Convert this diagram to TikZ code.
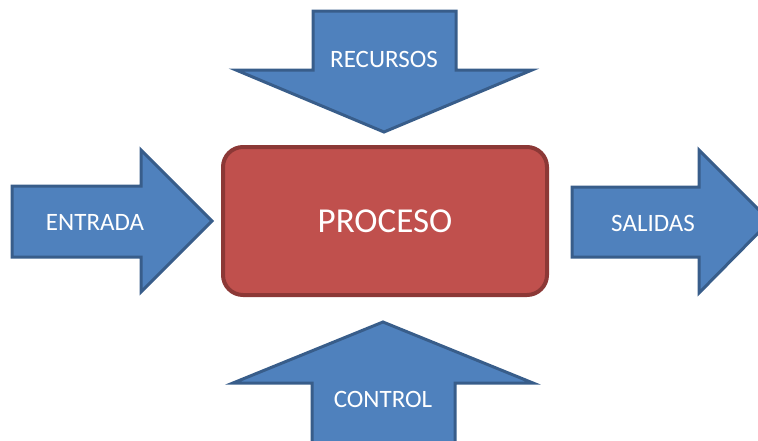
\documentclass[tikz,border=0pt]{standalone}
\usepackage{fontspec}
\setmainfont{Carlito}
\usepackage{tikz}

\definecolor{flechaazul}{HTML}{4F81BD}
\definecolor{bordeazul}{HTML}{385D8A}
\definecolor{cajaroja}{HTML}{C0504D}
\definecolor{borderojo}{HTML}{8C3836}

\begin{document}
\begin{tikzpicture}[x=1pt,y=-1pt,
	flecha/.style={fill=flechaazul,draw=bordeazul,line width=3pt,line join=miter},
	etiqueta/.style={text=white,font=\fontsize{25}{27}\selectfont}]
	\useasboundingbox (0,0) rectangle (758,440);
	\clip (0,0) rectangle (758,440);
	% flechas
	\draw[flecha] (12,186) -- (141,186) -- (141,150) -- (212,221) -- (141,292) -- (141,257) -- (12,257) -- cycle;
	\draw[flecha] (572,187) -- (699,187) -- (699,150) -- (770,221) -- (699,293) -- (699,257) -- (572,257) -- cycle;
	\draw[flecha] (313,11) -- (456,11) -- (456,70) -- (532,70) -- (384,132) -- (236,70) -- (313,70) -- cycle;
	\draw[flecha] (312,450) -- (312,383) -- (233,383) -- (383,322) -- (533,383) -- (455,383) -- (455,450);
	% caja central
	\draw[fill=cajaroja,draw=borderojo,line width=4pt,rounded corners=20pt] (223,147) rectangle (547,295);
	\node[text=white,font=\fontsize{35}{38}\selectfont] (proceso) at (385,221) {PROCESO};
	\node[etiqueta] (entrada) at (95,222) {ENTRADA};
	\node[etiqueta] (salidas) at (653,223) {SALIDAS};
	\node[etiqueta] (recursos) at (384,59) {RECURSOS};
	\node[etiqueta] (control) at (383,399) {CONTROL};
\end{tikzpicture}
\end{document}
